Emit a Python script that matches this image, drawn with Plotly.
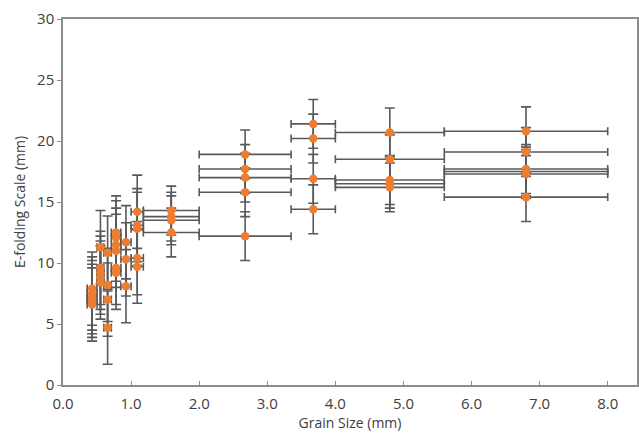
import plotly.graph_objects as go

# Sieve bins (mm) and measured e-folding scales (mm) per bin
bin_lo = [0.355, 0.5, 0.6, 0.71, 0.85, 1.0, 1.18, 2.0, 3.35, 4.0, 5.6]
bin_hi = [0.5, 0.6, 0.71, 0.85, 1.0, 1.18, 2.0, 3.35, 4.0, 5.6, 8.0]
efold = [
    [7.9, 7.5, 7.2, 6.9, 6.6],
    [11.3, 9.6, 9.2, 8.8, 8.4],
    [10.85, 8.2, 7.0, 4.7],
    [12.5, 12.1, 11.5, 11.0, 9.6, 9.2],
    [11.7, 10.3, 8.1],
    [14.2, 13.1, 12.8, 10.4, 9.7],
    [14.3, 13.8, 13.5, 12.5],
    [18.9, 17.7, 17.0, 15.8, 12.2],
    [21.4, 20.2, 16.9, 14.4],
    [20.7, 18.5, 16.8, 16.5, 16.2],
    [20.8, 19.1, 17.7, 17.5, 17.3, 15.4],
]
efold_err = [3, 3, 3, 3, 3, 3, 2, 2, 2, 2, 2]
x_ticks = [0, 1, 2, 3, 4, 5, 6, 7, 8]
y_ticks = [0, 5, 10, 15, 20, 25, 30]

xs, ys, xe, ye = [], [], [], []
for lo, hi, vals, err in zip(bin_lo, bin_hi, efold, efold_err):
    for v in vals:
        xs.append((lo + hi) / 2)
        xe.append((hi - lo) / 2)
        ys.append(v)
        ye.append(err)

GRAY = "#595959"
fig = go.Figure(go.Scatter(
    x=xs, y=ys, mode="markers",
    marker=dict(color="#ED7D31", size=8.5, symbol="circle"),
    error_x=dict(type="data", array=xe, color=GRAY, thickness=1.6, width=4),
    error_y=dict(type="data", array=ye, color=GRAY, thickness=1.6, width=5),
    showlegend=False,
))

TXT = "#404040"
fig.update_layout(
    width=639, height=433,
    margin=dict(l=63, r=2, t=19, b=48),
    paper_bgcolor="white", plot_bgcolor="white",
    font=dict(family="Open Sans", size=15, color=TXT),
    xaxis=dict(
        range=[0, 8.43], tickvals=x_ticks,
        ticktext=[f"{v:.1f}" for v in x_ticks],
        showgrid=False, zeroline=False, automargin=False,
        showline=True, linecolor="#8c8c8c", linewidth=1.5, mirror=True,
        ticks="inside", ticklen=4, tickcolor="#8c8c8c",
        tickfont=dict(size=15, color=TXT), ticklabelstandoff=4,
        title=dict(text="Grain Size (mm)", font=dict(size=14, color=TXT), standoff=3),
    ),
    yaxis=dict(
        range=[0, 30], tickvals=y_ticks,
        showgrid=False, zeroline=False, automargin=False,
        showline=True, linecolor="#8c8c8c", linewidth=1.5, mirror=True,
        ticks="outside", ticklen=4, tickcolor="#8c8c8c",
        tickfont=dict(size=15, color=TXT),
        title=dict(text="E-folding Scale (mm)", font=dict(size=14, color=TXT), standoff=8),
    ),
)

fig.write_html(
    "out.html",
    config={"displayModeBar": False},
    post_script="document.body.style.margin='0';document.body.style.padding='0';",
)
